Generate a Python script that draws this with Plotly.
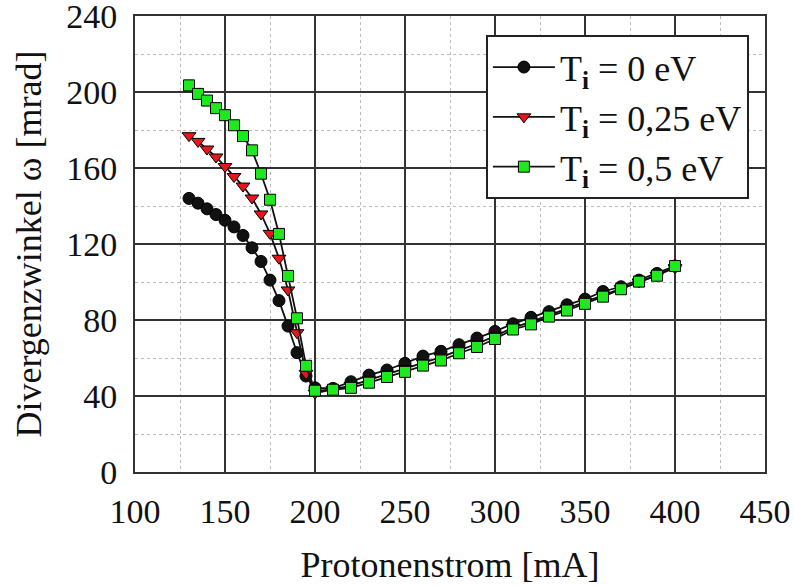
import plotly.graph_objects as go

x_vals = [130, 135, 140, 145, 150, 155, 160, 165, 170, 175, 180, 185, 190, 195, 200,
          210, 220, 230, 240, 250, 260, 270, 280, 290, 300,
          310, 320, 330, 340, 350, 360, 370, 380, 390, 400]

t0 = [144, 141.5, 138.5, 135.5, 132.5, 129, 124.5, 118, 110.8, 101, 90.2, 76.8, 62.8, 50.5, 44.3,
      44, 47.5, 51, 53.7, 57.2, 61, 63.5, 67, 70.5, 74,
      78, 81.4, 84.4, 88, 91, 95, 97.5, 101, 104.5, 108.4]

t025 = [177, 174, 170, 165.8, 160.8, 155.5, 150.5, 144.2, 135.8, 125.6, 112.5, 95.8, 73.3, 51.9, 41.5,
        43.5, 45.5, 48.5, 51.5, 54.5, 57.5, 60.5, 64, 67.5, 71.5,
        76, 79, 82.5, 86, 89.5, 93, 96.5, 100, 103.5, 107.5]

t05 = [203.5, 199, 195.5, 191.5, 187.8, 182.5, 176.8, 169.3, 157, 143.3, 125.3, 103.2, 80.9, 55.9, 42.8,
       43.3, 44.3, 47, 50, 52.7, 56, 58.7, 62.5, 65.8, 70,
       75, 77.7, 81.8, 85, 88.5, 92.3, 96.2, 100.2, 103.3, 108.4]

names = ["T<sub><b>i</b></sub> = 0 eV", "T<sub><b>i</b></sub> = 0,25 eV", "T<sub><b>i</b></sub> = 0,5 eV"]
x_ticks = [100, 150, 200, 250, 300, 350, 400, 450]
y_ticks = [0, 40, 80, 120, 160, 200, 240]

FONT = "Liberation Serif, Times New Roman, serif"

fig = go.Figure()
fig.add_trace(go.Scatter(x=x_vals, y=t0, name=names[0], mode="lines+markers",
                         line=dict(color="#111111", width=1.8),
                         marker=dict(symbol="circle", size=12, color="#111111",
                                     line=dict(color="#000000", width=1))))
fig.add_trace(go.Scatter(x=x_vals, y=t025, name=names[1], mode="lines+markers",
                         line=dict(color="#111111", width=1.8),
                         marker=dict(symbol="triangle-down", size=12, color="#e8161b",
                                     line=dict(color="#000000", width=1))))
fig.add_trace(go.Scatter(x=x_vals, y=t05, name=names[2], mode="lines+markers",
                         line=dict(color="#111111", width=1.8),
                         marker=dict(symbol="square", size=11, color="#1ee81e",
                                     line=dict(color="#000000", width=1))))

axis_common = dict(
    showgrid=True, gridcolor="#333333", gridwidth=1.6,
    showline=True, linecolor="#333333", linewidth=2, mirror=True,
    zeroline=False, ticks="", automargin=False, ticklabeloverflow="allow",
    tickfont=dict(family=FONT, size=34, color="#111111"),
)

fig.update_xaxes(range=[100, 450], tickvals=x_ticks, ticklabelstandoff=8,
                 title=dict(text="Protonenstrom [mA]", font=dict(family=FONT, size=36, color="#111111"),
                            standoff=23),
                 minor=dict(dtick=25, tick0=100, showgrid=True, gridcolor="#bbbbbb",
                            griddash="dot", gridwidth=1.2),
                 **axis_common)
fig.update_yaxes(range=[0, 240], tickvals=y_ticks, ticklabelstandoff=9,
                 title=dict(text="Divergenzwinkel ω [mrad]", font=dict(family=FONT, size=36, color="#111111"),
                            standoff=14),
                 minor=dict(dtick=20, tick0=0, showgrid=True, gridcolor="#bbbbbb",
                            griddash="dot", gridwidth=1.2),
                 **axis_common)

fig.update_layout(
    width=794, height=587,
    margin=dict(l=135, r=29, t=16, b=115),
    paper_bgcolor="white", plot_bgcolor="white",
    font=dict(family=FONT, size=36, color="#111111"),
    legend=dict(x=0.557, y=0.958, xanchor="left", yanchor="top",
                bgcolor="white", bordercolor="#222222", borderwidth=2,
                font=dict(family=FONT, size=36, color="#111111"),
                itemwidth=62),
    showlegend=True,
)

fig.write_html("out.html")
